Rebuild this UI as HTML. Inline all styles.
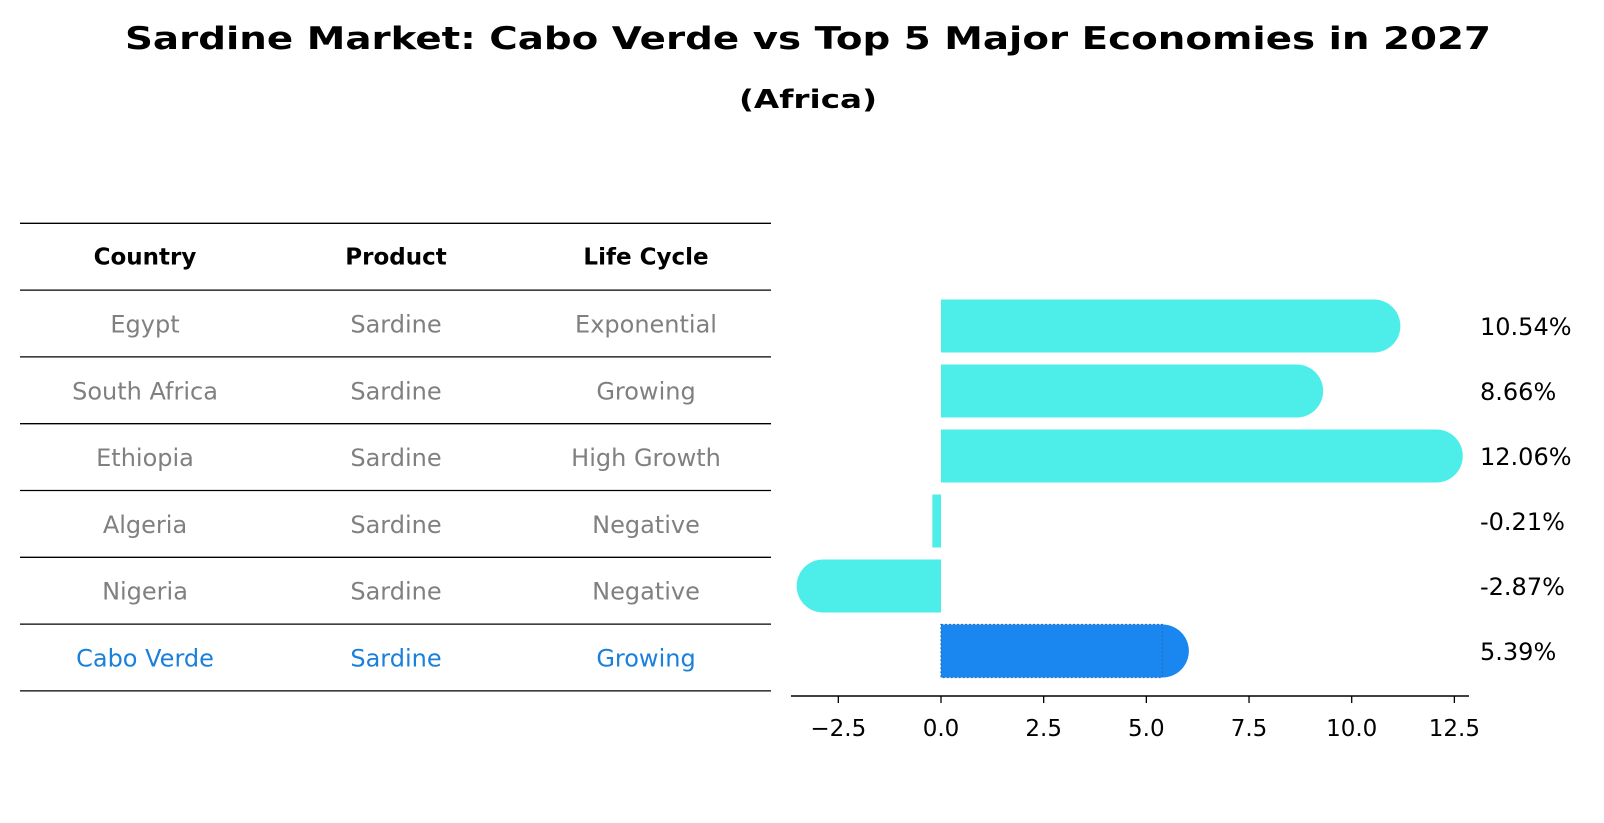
<!DOCTYPE html>
<html><head><meta charset="utf-8"><style>
html,body{margin:0;padding:0;background:#fff;}
svg{display:block;font-family:"DejaVu Sans","Liberation Sans",sans-serif;}
</style></head><body>
<svg id="chart" width="1604" height="823" viewBox="0 0 1604 823" xmlns="http://www.w3.org/2000/svg">
<text x="808" y="49" text-anchor="middle" font-size="31" font-weight="bold" textLength="1366" lengthAdjust="spacingAndGlyphs">Sardine Market: Cabo Verde vs Top 5 Major Economies in 2027</text>
<text x="808" y="108" text-anchor="middle" font-size="26" font-weight="bold" textLength="138" lengthAdjust="spacingAndGlyphs">(Africa)</text>
<g id="table"></g>
<g id="bars"></g>
</svg>
<script>
const countries = ["Egypt","South Africa","Ethiopia","Algeria","Nigeria","Cabo Verde"];
const products = ["Sardine","Sardine","Sardine","Sardine","Sardine","Sardine"];
const lifeCycles = ["Exponential","Growing","High Growth","Negative","Negative","Growing"];
const values = [10.54,8.66,12.06,-0.21,-2.87,5.39];
const tickValues = [-2.5,0,2.5,5,7.5,10,12.5];
const tickLabels = ["\u22122.5","0.0","2.5","5.0","7.5","10.0","12.5"];

const NS="http://www.w3.org/2000/svg";
function mk(tag,attrs,parent,txt){const e=document.createElementNS(NS,tag);for(const k in attrs)e.setAttribute(k,attrs[k]);if(txt!==undefined)e.textContent=txt;parent.appendChild(e);return e;}
const tbl=document.getElementById('table');
const bars=document.getElementById('bars');
const top0=223.3, rowH=66.8, colX=[145,396,646];
// table lines
for(let i=0;i<=countries.length+1;i++){
  const l=mk('line',{x1:20,x2:771,y1:top0+i*rowH,y2:top0+i*rowH,stroke:'#000','stroke-width':1.3},tbl);
  
  
}
const headers=["Country","Product","Life Cycle"];
headers.forEach((h,j)=>{
  const t=mk('text',{x:colX[j],y:top0+rowH/2+8,'text-anchor':'middle','font-size':23,'font-weight':'bold'},tbl,h);
  
  
});
countries.forEach((c,i)=>{
  const hl=c==="Cabo Verde";
  const col=hl?'#1a80dc':'#808080';
  const y=top0+(i+1.5)*rowH+9;
  [c,products[i],lifeCycles[i]].forEach((v,j)=>{
    const t=mk('text',{x:colX[j],y:y,'text-anchor':'middle','font-size':24,fill:col},tbl,v);
    
    
  });
});
// bar chart axes
const x0px=941, pxPerUnit=41.07;
const xs=v=>x0px+v*pxPerUnit;
const barCenter0=326, barStep=65, barH=53, r=26.5;
const axisY=696;
values.forEach((v,i)=>{
  const hl=countries[i]==="Cabo Verde";
  const col=hl?'#1a87f0':'#4deee9';
  const cy=barCenter0+i*barStep;
  const xa=Math.min(xs(0),xs(v)), xb=Math.max(xs(0),xs(v));
  const g=mk('g',{},bars);
  
  
  mk('rect',{x:xa,y:cy-barH/2,width:xb-xa,height:barH,fill:col},g);
  if(Math.abs(v)>1){
    mk('circle',{cx:xs(v),cy:cy,r:r,fill:col},g);
  }
  if(hl){
    mk('rect',{x:xa,y:cy-barH/2,width:xb-xa,height:barH,fill:'none',stroke:'#2a6fc0','stroke-width':1.2,'stroke-dasharray':'2,2'},g);
  }
  const t=mk('text',{x:1480,y:cy+9,'font-size':24,fill:'#000'},bars,v.toFixed(2)+'%');
  
  
});
const ax=mk('line',{x1:791,x2:1469,y1:axisY,y2:axisY,stroke:'#000','stroke-width':1.6},bars);


tickValues.forEach((tv,i)=>{
  const tk=mk('line',{x1:xs(tv),x2:xs(tv),y1:axisY,y2:axisY+7,stroke:'#000','stroke-width':1.3},bars);
  
  
  const t=mk('text',{x:xs(tv),y:axisY+40,'text-anchor':'middle','font-size':23},bars,tickLabels[i]);
  
  
});
</script>
</body></html>
